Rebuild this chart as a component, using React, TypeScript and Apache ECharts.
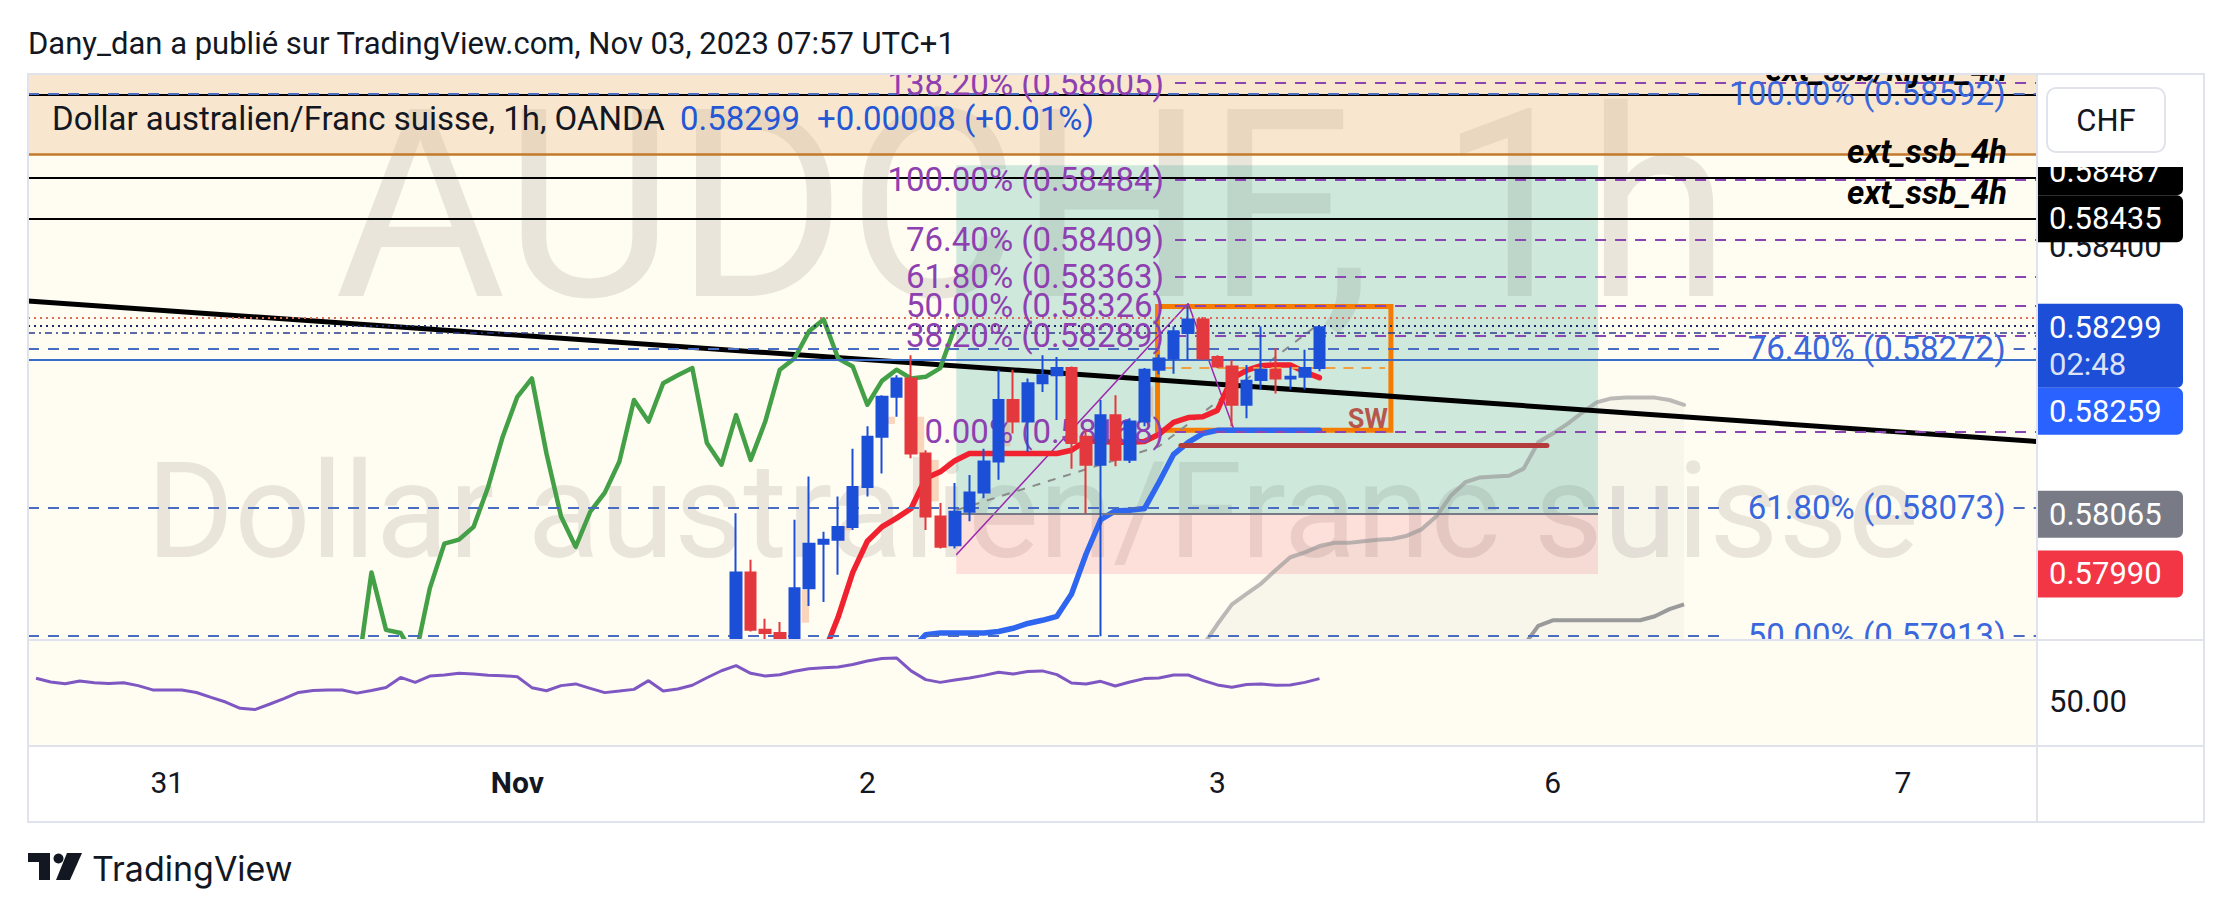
import React, { useEffect, useRef } from 'react';
import * as echarts from 'echarts';

// ---------------- data ----------------
const timeTickIdx = [9, 33, 57, 81, 104, 128];
const timeTickText = ['31', 'Nov', '2', '3', '6', '7'];
const priceTicks = [0.58, 0.582, 0.584, 0.586];
const rsiTicks = [50];

const candleStart = 47;
const opens = [0.57845, 0.57880, 0.57992, 0.57920, 0.57916, 0.57885, 0.57972, 0.58028, 0.58033, 0.58049, 0.58099, 0.58162, 0.58212, 0.58235, 0.58141, 0.58062, 0.58026, 0.58068, 0.58092, 0.58131, 0.58208, 0.58181, 0.58229, 0.58239, 0.58248, 0.58162, 0.58127, 0.58189, 0.58133, 0.58181, 0.58246, 0.58260, 0.58292, 0.58309, 0.58262, 0.58250, 0.58202, 0.58233, 0.58246, 0.58235, 0.58237, 0.58248];
const closes = [0.57860, 0.57992, 0.57920, 0.57916, 0.57885, 0.57972, 0.58028, 0.58033, 0.58049, 0.58099, 0.58162, 0.58212, 0.58235, 0.58141, 0.58062, 0.58024, 0.58068, 0.58092, 0.58131, 0.58208, 0.58181, 0.58229, 0.58239, 0.58248, 0.58154, 0.58127, 0.58189, 0.58133, 0.58181, 0.58246, 0.58260, 0.58294, 0.58309, 0.58260, 0.58250, 0.58202, 0.58232, 0.58246, 0.58235, 0.58237, 0.58248, 0.58299];
const lows = [0.57830, 0.57870, 0.57918, 0.57905, 0.57870, 0.57870, 0.57950, 0.57955, 0.57989, 0.58045, 0.58087, 0.58116, 0.58187, 0.58135, 0.58045, 0.58022, 0.58022, 0.58056, 0.58085, 0.58108, 0.58166, 0.58143, 0.58218, 0.58183, 0.58122, 0.58066, 0.57912, 0.58125, 0.58129, 0.58175, 0.58240, 0.58241, 0.58258, 0.58258, 0.58248, 0.58175, 0.58185, 0.58221, 0.58216, 0.58221, 0.58221, 0.58244];
const highs = [0.57880, 0.58066, 0.58008, 0.57934, 0.57930, 0.58058, 0.58112, 0.58043, 0.58087, 0.58147, 0.58175, 0.58214, 0.58239, 0.58264, 0.58145, 0.58079, 0.58104, 0.58114, 0.58147, 0.58246, 0.58246, 0.58235, 0.58264, 0.58262, 0.58250, 0.58170, 0.58208, 0.58214, 0.58185, 0.58248, 0.58265, 0.58300, 0.58326, 0.58312, 0.58264, 0.58258, 0.58252, 0.58300, 0.58273, 0.58250, 0.58271, 0.58300];

const chikouShift = 25;

const tenkanStart = 53;
const tenkan = [0.57860, 0.57890, 0.57936, 0.57992, 0.58031, 0.58049, 0.58060, 0.58072, 0.58110, 0.58118, 0.58132, 0.58141, 0.58141, 0.58141, 0.58141, 0.58141, 0.58141, 0.58141, 0.58145, 0.58157, 0.58156, 0.58155, 0.58155, 0.58156, 0.58165, 0.58180, 0.58186, 0.58187, 0.58195, 0.58235, 0.58245, 0.58251, 0.58252, 0.58252, 0.58243, 0.58236];

const kijunStart = 60;
const kijun = [0.57895, 0.57914, 0.57916, 0.57916, 0.57916, 0.57916, 0.57918, 0.57922, 0.57928, 0.57932, 0.57937, 0.57965, 0.58015, 0.58058, 0.58069, 0.58070, 0.58072, 0.58105, 0.58140, 0.58155, 0.58166, 0.58170, 0.58170, 0.58170, 0.58170, 0.58170, 0.58170, 0.58170, 0.58170];

const spanAStart = 80;
const spanA = [0.57900, 0.57927, 0.57952, 0.57965, 0.57978, 0.57995, 0.58011, 0.58017, 0.58025, 0.58029, 0.58029, 0.58031, 0.58033, 0.58034, 0.58038, 0.58046, 0.58062, 0.58088, 0.58105, 0.58111, 0.58112, 0.58113, 0.58122, 0.58155, 0.58166, 0.58178, 0.58192, 0.58205, 0.58210, 0.58211, 0.58211, 0.58211, 0.58208, 0.58202];

const spanBStart = 102;
const spanB = [0.57900, 0.57925, 0.57932, 0.57932, 0.57932, 0.57932, 0.57932, 0.57932, 0.57932, 0.57937, 0.57946, 0.57952];

const rsiStart = 0;
const rsi = [63.3, 61.1, 60.1, 61.7, 60.7, 60.3, 60.7, 59.0, 56.5, 56.4, 56.4, 55.0, 52.1, 49.4, 45.7, 45.0, 48.1, 51.4, 55.0, 56.2, 56.4, 56.4, 54.6, 56.2, 57.9, 63.8, 60.9, 64.6, 65.2, 66.2, 65.8, 65.0, 64.8, 64.2, 57.8, 56.0, 59.0, 60.0, 57.4, 54.9, 55.8, 56.8, 61.9, 55.8, 57.0, 59.2, 63.6, 67.7, 70.7, 66.2, 64.6, 65.4, 67.4, 68.9, 69.5, 69.9, 71.3, 73.4, 74.8, 75.2, 67.6, 62.5, 60.9, 62.3, 63.5, 65.0, 66.8, 65.8, 67.2, 67.6, 65.4, 60.5, 59.9, 61.5, 58.8, 61.1, 63.1, 63.5, 65.2, 65.2, 62.1, 59.4, 58.0, 59.6, 60.0, 59.2, 59.4, 60.9, 63.1];
const rsiBands = [70, 50, 30];

// axis extent in bars
const X_MIN = -0.55, X_MAX = 137.2;

// drawing anchors [bar, price]
const trendLine = [[X_MIN, 0.58332], [X_MAX, 0.58156]];
const purplePath = [[63.1, 0.58014], [79.0, 0.58329], [82.1, 0.58173]];
const grayDashPath = [[63.1, 0.58070], [77.0, 0.58150], [88.0, 0.58304]];

// fib retracements
const purpleFibLevels = [1.382, 1, 0.764, 0.618, 0.5, 0.382, 0];
const purpleFibPrices = [0.58605, 0.58484, 0.58409, 0.58363, 0.58326, 0.58289, 0.58168];
const purpleFibFrom = 78.1;
const blueFibLevels = [1, 0.764, 0.618, 0.5];
const blueFibPrices = [0.58592, 0.58272, 0.58073, 0.57913];
const blueFibLabelAt = 135.6;

// horizontal lines
const blackLines = [0.58590, 0.58487, 0.58435];
const blackLineLabels = ['ext_ssb/kijun_4h', 'ext_ssb_4h', 'ext_ssb_4h'];
const orangeLine = 0.58516;
const redDotted = 0.58311;
const lastPriceDotted = 0.58301;
const dashDot = 0.58292;
const blueSolid = 0.58259;

// long position tool
const longFrom = 63.1, longTo = 107.1;
const longEntry = 0.58065, longStop = 0.57990, longTarget = 0.58502;

// zone / rectangle
const swRect = [[76.9, 0.58325], [92.9, 0.58170]];
const swMid = 0.58248;
const swLabelAt = [92.7, 0.58184];
const ssbLine = [[78.5, 0.58151], [103.6, 0.58151]];
const fvgBoxes = [
  [52.5, 53.0, 0.57929, 0.57970],
  [55.3, 55.9, 0.58045, 0.58050],
  [58.4, 58.9, 0.58178, 0.58187],
  [60.2, 60.9, 0.58141, 0.58187],
  [61.2, 61.9, 0.58081, 0.58133],
  [66.3, 66.8, 0.58150, 0.58179],
  [76.2, 76.6, 0.58187, 0.58225],
];

// right axis price tags
const tagValues = [0.58487, 0.58435, 0.58299, 0.58259, 0.58065, 0.57990];
const tagSub = ['', '', '02:48', '', '', ''];

const titleText = 'Dany_dan a publié sur TradingView.com, Nov 03, 2023 07:57 UTC+1';
const legendName = 'Dollar australien/Franc suisse, 1h, OANDA';
const legendLast = '0.58299';
const legendChange = '+0.00008 (+0.01%)';
const watermark1 = 'AUDCHF, 1h';
const watermark2 = 'Dollar australien/Franc suisse';
const currency = 'CHF';

// ---------------- layout / style ----------------
const FONT = 'Roboto, "Noto Sans", Arial, sans-serif';
const CREAM = '#fffcf2';
const UP = '#1c4fd8';
const DOWN = '#e3383d';
const PURPLE = '#8e3fb0';
const BLUE_T = '#3a68dc';
const BLUE_L = '#4a6cc0';
const LABEL_SIZE = 33;
const Y_MIN = 0.579073, Y_MAX = 0.586152;
const RSI_MIN = 23.7, RSI_MAX = 85.67;
const GL = 28, GR = 2037, MT = 75, MB = 640, RB = 746, AB = 822, AR = 2204;
const BAR_PX = (GR - GL) / (X_MAX - X_MIN);
const tagColors = ['#000000', '#000000', '#1d4ed8', '#2962ff', '#787b86', '#f23645'];

const hseg = (j0: number, j1: number, p: number, ls: any) => [{ coord: [j0, p], lineStyle: ls }, { coord: [j1, p] }];
const fibText = (lvl: number, p: number) => `${(lvl * 100).toFixed(2)}% (${p.toFixed(5)})`;

function buildOption(): any {
  const candleData = opens.map((o, i) => [candleStart + i, o, closes[i], lows[i], highs[i]]);
  const chikou = closes.map((c, i) => [candleStart + i - chikouShift, c]);
  const toXY = (start: number, arr: number[]) => arr.map((v, i) => [start + i, v]);

  const dashed = [11, 9];
  const lines: any[] = [];
  blackLines.forEach((p) => lines.push(hseg(X_MIN, X_MAX, p, { color: '#000', width: 2, type: 'solid' })));
  lines.push(hseg(X_MIN, X_MAX, orangeLine, { color: '#c27a2c', width: 2.5, type: 'solid' }));
  lines.push(hseg(X_MIN, X_MAX, redDotted, { color: '#e06a5a', width: 2, type: [2, 4] }));
  lines.push(hseg(X_MIN, X_MAX, lastPriceDotted, { color: '#1a2b6b', width: 2, type: [2, 4] }));
  lines.push(hseg(X_MIN, X_MAX, dashDot, { color: '#2a3a8a', width: 1.5, type: [7, 4, 2, 4] }));
  lines.push(hseg(X_MIN, X_MAX, blueSolid, { color: '#3b6cc7', width: 2, type: 'solid' }));
  blueFibLevels.forEach((lvl, i) => {
    const p = blueFibPrices[i];
    const chars = fibText(lvl, p).length;
    const jL = blueFibLabelAt - (chars * 16.6 + 24) / BAR_PX;
    lines.push(hseg(X_MIN, jL, p, { color: BLUE_L, width: 2, type: dashed }));
    lines.push(hseg(blueFibLabelAt, X_MAX, p, { color: BLUE_L, width: 2, type: dashed }));
  });
  purpleFibPrices.forEach((p) => lines.push(hseg(purpleFibFrom, X_MAX, p, { color: '#8a44b4', width: 2, type: dashed })));
  lines.push(hseg(longFrom, longTo, longEntry, { color: '#787b86', width: 2, type: 'solid' }));
  lines.push([{ coord: ssbLine[0], lineStyle: { color: '#b33b3b', width: 5, type: 'solid', cap: 'round' } }, { coord: ssbLine[1] }]);
  lines.push(hseg(swRect[0][0] + 0.4, swRect[1][0] - 0.4, swMid, { color: '#f0a040', width: 2, type: [10, 8] }));

  const zones: any[] = [
    [{ coord: [X_MIN, orangeLine], itemStyle: { color: 'rgba(236,190,140,0.36)' } }, { coord: [X_MAX, Y_MAX] }],
    [{ coord: [longFrom, longEntry], itemStyle: { color: 'rgba(8,153,129,0.2)' } }, { coord: [longTo, longTarget] }],
    [{ coord: [longFrom, longStop], itemStyle: { color: 'rgba(242,54,69,0.14)' } }, { coord: [longTo, longEntry] }],
  ];
  fvgBoxes.forEach((b) => zones.push([{ coord: [b[0], b[2]], itemStyle: { color: 'rgba(240,150,100,0.38)' } }, { coord: [b[1], b[3]] }]));

  const lineBase = { type: 'line', xAxisIndex: 0, yAxisIndex: 0, showSymbol: false, symbol: 'none', silent: true, clip: true };

  return {
    animation: false,
    grid: [
      { left: GL, top: MT, width: GR - GL, height: MB - MT },
      { left: GL, top: MB, width: GR - GL, height: RB - MB },
    ],
    xAxis: [
      { type: 'value', gridIndex: 0, min: X_MIN, max: X_MAX, show: false },
      {
        type: 'value', gridIndex: 1, min: X_MIN, max: X_MAX,
        axisLine: { show: false }, axisTick: { show: false }, splitLine: { show: false },
        axisLabel: {
          customValues: timeTickIdx,
          formatter: (v: number) => {
            const t = timeTickText[timeTickIdx.indexOf(v)] ?? '';
            return t === 'Nov' ? '{b|Nov}' : t;
          },
          margin: 21, fontSize: 30, color: '#131722', fontFamily: FONT,
          rich: { b: { fontWeight: 'bold', fontSize: 30, color: '#131722', fontFamily: FONT } },
        },
      },
    ],
    yAxis: [
      {
        type: 'value', gridIndex: 0, min: Y_MIN, max: Y_MAX, position: 'right',
        axisLine: { show: false }, axisTick: { show: false }, splitLine: { show: false },
        axisLabel: { customValues: priceTicks, formatter: (v: number) => v.toFixed(5), margin: 12, fontSize: 31, color: '#131722', fontFamily: FONT },
      },
      {
        type: 'value', gridIndex: 1, min: RSI_MIN, max: RSI_MAX, position: 'right',
        axisLine: { show: false }, axisTick: { show: false }, splitLine: { show: false },
        axisLabel: { customValues: rsiTicks, formatter: (v: number) => v.toFixed(2), margin: 12, fontSize: 31, color: '#131722', fontFamily: FONT },
      },
    ],
    series: [
      {
        ...lineBase, name: 'zones', z: 1, data: [[X_MIN, Y_MIN]], lineStyle: { opacity: 0 },
        markArea: { silent: true, data: zones },
      },
      {
        ...lineBase, name: 'levels', z: 3, data: [[X_MIN, Y_MIN]], lineStyle: { opacity: 0 },
        markLine: { silent: true, symbol: ['none', 'none'], label: { show: false }, emphasis: { disabled: true }, lineStyle: { type: 'solid' }, data: lines },
        markArea: {
          silent: true,
          data: [[{ coord: swRect[0], itemStyle: { color: 'rgba(0,0,0,0)', borderColor: '#f57c00', borderWidth: 5 } }, { coord: swRect[1] }]],
        },
      },
      {
        ...lineBase, name: 'spanA', z: 3, data: toXY(spanAStart, spanA),
        lineStyle: { color: 'rgba(150,150,150,0.65)', width: 4, join: 'round', cap: 'round' },
        areaStyle: { origin: 'start', color: 'rgba(120,123,134,0.08)' },
      },
      { ...lineBase, name: 'spanB', z: 3, data: toXY(spanBStart, spanB), lineStyle: { color: '#9a9a9a', width: 4, join: 'round' } },
      { ...lineBase, name: 'trend', z: 4, data: trendLine, lineStyle: { color: '#000', width: 5 } },
      { ...lineBase, name: 'purple', z: 4, data: purplePath, lineStyle: { color: '#9c27b0', width: 1.5 } },
      { ...lineBase, name: 'grayDash', z: 4, data: grayDashPath, lineStyle: { color: '#8a8a8a', width: 2, type: [8, 8] } },
      { ...lineBase, name: 'chikou', z: 4, data: chikou, lineStyle: { color: '#43a047', width: 4.5, join: 'round' } },
      { ...lineBase, name: 'tenkan', z: 4, data: toXY(tenkanStart, tenkan), lineStyle: { color: '#f0222f', width: 5.5, join: 'round', cap: 'round' } },
      { ...lineBase, name: 'kijun', z: 4, data: toXY(kijunStart, kijun), lineStyle: { color: '#2e66f0', width: 5.5, join: 'round', cap: 'round' } },
      {
        type: 'candlestick', name: 'AUDCHF', xAxisIndex: 0, yAxisIndex: 0, z: 6, barWidth: 11, clip: true, silent: true,
        data: candleData,
        itemStyle: { color: UP, color0: DOWN, borderColor: UP, borderColor0: DOWN, borderWidth: 2 },
      },
      {
        type: 'line', name: 'RSI', xAxisIndex: 1, yAxisIndex: 1, z: 10, showSymbol: false, symbol: 'none', silent: true,
        data: toXY(rsiStart, rsi),
        lineStyle: { color: '#7e57c2', width: 3 },
        markArea: { silent: true, data: [[{ coord: [X_MIN, rsiBands[2]], itemStyle: { color: 'rgba(126,87,194,0.1)' } }, { coord: [X_MAX, rsiBands[0]] }]] },
        markLine: {
          silent: true, symbol: ['none', 'none'], label: { show: false },
          data: rsiBands.map((b, i) => hseg(X_MIN, X_MAX, b, { color: i === 1 ? 'rgba(120,123,134,0.55)' : '#787b86', width: 2, type: [10, 8] })),
        },
      },
    ],
  };
}

function txt(text: string, x: number, y: number, o: any = {}) {
  const align = o.align || 'left';
  return {
    type: 'text', z: o.z ?? 8, silent: true,
    style: {
      text, x, y,
      fill: o.fill || '#131722',
      fontSize: o.size || 30, fontFamily: o.family || FONT,
      fontWeight: o.weight || 'normal', fontStyle: o.italic ? 'italic' : 'normal',
      align, textAlign: align, verticalAlign: 'middle', textVerticalAlign: 'middle',
    },
  };
}

function buildGraphic(chart: any): any[] {
  const P = (j: number, p: number) => chart.convertToPixel({ xAxisIndex: 0, yAxisIndex: 0 }, [j, p]) as number[];
  const py = (p: number) => P(0, p)[1];
  const g: any[] = [];
  g.push({ type: 'rect', z: -3, silent: true, shape: { x: 0, y: 0, width: 2225, height: 916 }, style: { fill: '#ffffff' } });
  g.push({ type: 'rect', z: -2, silent: true, shape: { x: GL, y: MT, width: GR - GL, height: RB - MT }, style: { fill: CREAM } });
  g.push({ ...txt(watermark1, (GL + GR) / 2, 206, { size: 263, align: 'center', fill: 'rgba(60,50,40,0.11)', z: -1 }) });
  g.push({ ...txt(watermark2, (GL + GR) / 2, 511, { size: 134, align: 'center', fill: 'rgba(60,50,40,0.11)', z: -1 }) });

  const pxFrom = P(purpleFibFrom, 0.58)[0];
  purpleFibLevels.forEach((lvl, i) => {
    const p = purpleFibPrices[i];
    g.push(txt(fibText(lvl, p), pxFrom - 11, py(p), { fill: PURPLE, align: 'right', z: 5, size: LABEL_SIZE }));
  });
  const pxR = P(blueFibLabelAt, 0.58)[0];
  blueFibLevels.forEach((lvl, i) => {
    const p = blueFibPrices[i];
    g.push(txt(fibText(lvl, p), pxR - 8, py(p), { fill: BLUE_T, align: 'right', z: 5, size: LABEL_SIZE }));
  });
  blackLines.forEach((p, i) => {
    g.push(txt(blackLineLabels[i], 2007, py(p) - 26, { weight: 'bold', italic: true, align: 'right', fill: '#000', z: 5, size: LABEL_SIZE }));
  });
  const sw = P(swLabelAt[0], swLabelAt[1]);
  g.push(txt('SW', sw[0], sw[1], { weight: 'bold', size: 27, align: 'right', fill: 'rgba(178,60,50,0.85)', z: 5 }));

  // cover the RSI pane so candles / labels below the main pane are clipped
  g.push({ type: 'rect', z: 7, silent: true, shape: { x: GL, y: MB + 1, width: GR - GL, height: RB - MB - 1 }, style: { fill: CREAM } });
  g.push({ type: 'rect', z: 22, silent: true, shape: { x: GL, y: 56, width: AR - GL, height: MT - 56 }, style: { fill: '#ffffff' } });

  const fl = (x1: number, y1: number, x2: number, y2: number) => ({ type: 'line', z: 23, silent: true, shape: { x1, y1, x2, y2 }, style: { stroke: '#e0e3eb', lineWidth: 2 } });
  g.push({ type: 'rect', z: 23, silent: true, shape: { x: GL, y: MT - 1, width: AR - GL, height: AB - MT + 1 }, style: { fill: 'none', stroke: '#e0e3eb', lineWidth: 2 } });
  g.push(fl(GR, MT, GR, AB));
  g.push(fl(GL, MB, AR, MB));
  g.push(fl(GL, RB, AR, RB));

  const boxes = tagValues.map((v, i) => ({ v, i, top: py(v) - 23.5, h: tagSub[i] ? 84 : 47 }));
  boxes.sort((a, b) => a.top - b.top);
  for (let k = 1; k < boxes.length; k++) {
    const prev = boxes[k - 1];
    const ov = prev.top + prev.h - boxes[k].top;
    if (ov > 0) {
      if (ov < 20) prev.top -= ov; else boxes[k].top += ov;
    }
  }
  boxes.forEach((b) => {
    g.push({ type: 'rect', z: 20, silent: true, shape: { x: GR, y: b.top, width: 146, height: b.h, r: [0, 6, 6, 0] }, style: { fill: tagColors[b.i] } });
    g.push(txt(b.v.toFixed(5), GR + 12, b.top + 23.5, { fill: '#ffffff', z: 21, size: 31 }));
    if (tagSub[b.i]) g.push(txt(tagSub[b.i], GR + 12, b.top + 60.5, { fill: 'rgba(255,255,255,0.85)', z: 21, size: 31 }));
  });
  g.push({ type: 'rect', z: 22, silent: true, shape: { x: GR + 1, y: MT, width: AR - GR - 2, height: 167 - MT }, style: { fill: '#ffffff' } });
  g.push({ type: 'rect', z: 23, silent: true, shape: { x: 2047, y: 88, width: 118, height: 64, r: 9 }, style: { fill: '#ffffff', stroke: '#e0e3eb', lineWidth: 2 } });
  g.push(txt(currency, 2106, 120, { align: 'center', z: 24, size: 31 }));

  g.push(txt(titleText, 28, 43, { size: 31, z: 24 }));
  g.push(txt(legendName, 52, 118, { z: 24, size: LABEL_SIZE }));
  g.push(txt(legendLast, 680, 118, { z: 24, fill: '#2457d6', size: LABEL_SIZE }));
  g.push(txt(legendChange, 817, 118, { z: 24, fill: '#2457d6', size: LABEL_SIZE }));

  g.push({ type: 'rect', z: 24, silent: true, shape: { x: 28, y: 853, width: 22, height: 9 }, style: { fill: '#131722' } });
  g.push({ type: 'rect', z: 24, silent: true, shape: { x: 39, y: 853, width: 11, height: 27 }, style: { fill: '#131722' } });
  g.push({ type: 'circle', z: 24, silent: true, shape: { cx: 58.5, cy: 858.5, r: 5 }, style: { fill: '#131722' } });
  g.push({ type: 'polygon', z: 24, silent: true, shape: { points: [[67, 853], [82, 853], [70, 880], [56, 880]] }, style: { fill: '#131722' } });
  g.push(txt('TradingView', 92, 868, { size: 34, family: 'Inter, Roboto, sans-serif', z: 24 }));
  return g;
}

export default function App() {
  const ref = useRef<HTMLDivElement>(null);
  useEffect(() => {
    const el = ref.current;
    if (!el) return;
    const chart = echarts.init(el, null, { renderer: 'svg' });
    chart.setOption(buildOption());
    chart.setOption({ graphic: { elements: buildGraphic(chart) } });
    return () => chart.dispose();
  }, []);
  return <div ref={ref} style={{ position: 'absolute', left: 0, top: 0, width: 2225, height: 916, background: '#fff' }} />;
}
